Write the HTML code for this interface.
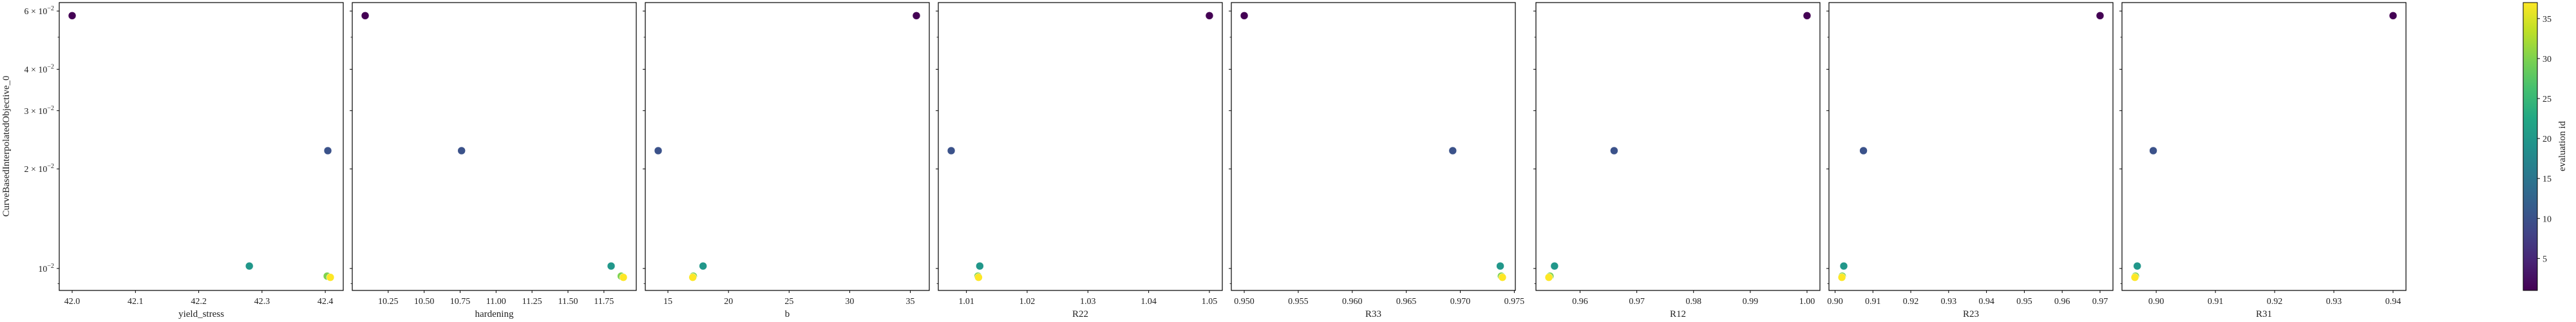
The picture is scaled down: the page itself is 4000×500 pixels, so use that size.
<!DOCTYPE html>
<html><head><meta charset="utf-8"><style>
html,body{margin:0;padding:0;background:#fff;}
svg{display:block;font-family:"Liberation Serif",serif;}
</style></head><body>
<svg id="chart" width="4000" height="500" viewBox="0 0 4000 500" xmlns="http://www.w3.org/2000/svg">
<defs>
<linearGradient id="viridis" x1="0" y1="1" x2="0" y2="0">
<stop offset="0" stop-color="#440154"/><stop offset="0.1" stop-color="#482475"/><stop offset="0.2" stop-color="#414487"/><stop offset="0.3" stop-color="#355f8d"/><stop offset="0.4" stop-color="#2a788e"/><stop offset="0.5" stop-color="#21918c"/><stop offset="0.6" stop-color="#22a884"/><stop offset="0.7" stop-color="#44bf70"/><stop offset="0.8" stop-color="#7ad151"/><stop offset="0.9" stop-color="#bddf26"/><stop offset="1" stop-color="#fde725"/>
</linearGradient>
</defs>
</svg>
<script>
// ---- data ----
const paramNames = ["yield_stress","hardening","b","R22","R33","R12","R23","R31"];
const evalIds = [1, 10, 20, 30, 37];
const objective = [0.0581, 0.0227, 0.01017, 0.00948, 0.0094];
const yieldStress = [42.0, 42.404, 42.28, 42.403, 42.408];
const hardening = [10.09, 10.76, 11.80, 11.87, 11.885];
const bVals = [35.5, 14.2, 17.9, 17.1, 17.05];
const r22 = [1.05, 1.0075, 1.0122, 1.0119, 1.0120];
const r33 = [0.950, 0.9693, 0.9737, 0.9738, 0.9739];
const r12 = [1.00, 0.966, 0.9555, 0.9547, 0.9545];
const r23 = [0.97, 0.9075, 0.9023, 0.9019, 0.9018];
const r31 = [0.94, 0.8995, 0.8968, 0.8965, 0.8964];
const xTicks = [
 [42.0,42.1,42.2,42.3,42.4],
 [10.25,10.5,10.75,11.0,11.25,11.5,11.75],
 [15,20,25,30,35],
 [1.01,1.02,1.03,1.04,1.05],
 [0.950,0.955,0.960,0.965,0.970,0.975],
 [0.96,0.97,0.98,0.99,1.00],
 [0.90,0.91,0.92,0.93,0.94,0.95,0.96,0.97],
 [0.90,0.91,0.92,0.93,0.94]
];
const xTickDigits = [1,2,0,2,3,2,2,2];
const yMajorTicks = [0.01,0.02,0.03,0.04,0.06];
const yMajorLabels = [["10","−2"],["2 × 10","−2"],["3 × 10","−2"],["4 × 10","−2"],["6 × 10","−2"]];
const yMinorTicks = [0.009,0.05];
const cbTicks = [5,10,15,20,25,30,35];
const cbMin = 1, cbMax = 37;

// ---- layout ----
const panelLeft = [92,547,1002,1457,1912,2385,2840,3295];
const panelW = 441, plotTop = 4, plotBottom = 451;
const svg = document.getElementById('chart');
const NS = "http://www.w3.org/2000/svg";
function mk(tag, attrs, parent){const e=document.createElementNS(NS,tag);for(const k in attrs)e.setAttribute(k,attrs[k]);(parent||svg).appendChild(e);return e;}

const series = [yieldStress,hardening,bVals,r22,r33,r12,r23,r31];
const lyMin = Math.log10(Math.min(...objective)), lyMax = Math.log10(Math.max(...objective));
const lySpan = lyMax-lyMin, ly0 = lyMin-0.05*lySpan, ly1 = lyMax+0.05*lySpan;
function yScale(v){return plotBottom-(Math.log10(v)-ly0)/(ly1-ly0)*(plotBottom-plotTop);}

const vstops=[[0,[68,1,84]],[0.1,[72,36,117]],[0.2,[65,68,135]],[0.3,[53,95,141]],[0.4,[42,120,142]],[0.5,[33,145,140]],[0.6,[34,168,132]],[0.7,[68,191,112]],[0.8,[122,209,81]],[0.9,[189,223,38]],[1,[253,231,37]]];
function viridis(t){t=Math.max(0,Math.min(1,t));for(let i=1;i<vstops.length;i++){if(t<=vstops[i][0]){const a=vstops[i-1],b=vstops[i];const f=(t-a[0])/(b[0]-a[0]);const c=a[1].map((v,j)=>Math.round(v+(b[1][j]-v)*f));return `rgb(${c[0]},${c[1]},${c[2]})`;}}return 'rgb(253,231,37)';}

// y label
const yl = mk('text',{x:14,y:227,'font-size':15,'text-anchor':'middle',transform:'rotate(-90 14 227)',fill:'#222'});


yl.textContent='CurveBasedInterpolatedObjective_0';

series.forEach((vals,p)=>{
  const L = panelLeft[p];
  const g = mk('g',{});
  
  
  const mn=Math.min(...vals), mx=Math.max(...vals), sp=mx-mn;
  const x0=mn-0.05*sp, x1=mx+0.05*sp;
  const xs = v => L+(v-x0)/(x1-x0)*panelW;
  yMajorTicks.forEach((t,i)=>{
    const y=yScale(t);
    const tk=mk('line',{x1:L-4,x2:L,y1:y,y2:y,stroke:'#000','stroke-width':1},g);
    
    
    if(p===0){
      const tx=mk('text',{x:L-8,y:y+5,'font-size':14,'text-anchor':'end',fill:'#222'},g);
      
      
      const a=mk('tspan',{},tx);a.textContent=yMajorLabels[i][0];
      const b=mk('tspan',{dy:-6,'font-size':10},tx);b.textContent=yMajorLabels[i][1];
    }
  });
  yMinorTicks.forEach(t=>{
    const y=yScale(t);
    const tk=mk('line',{x1:L-2.5,x2:L,y1:y,y2:y,stroke:'#000','stroke-width':0.8},g);
    
    
  });
  xTicks[p].forEach(t=>{
    const x=xs(t);
    const tk=mk('line',{x1:x,x2:x,y1:plotBottom,y2:plotBottom+4,stroke:'#000','stroke-width':1},g);
    
    
    const tx=mk('text',{x:x,y:plotBottom+21,'font-size':14,'text-anchor':'middle',fill:'#222'},g);
    
    
    tx.textContent=t.toFixed(xTickDigits[p]);
  });
  const xl=mk('text',{x:L+panelW/2,y:plotBottom+41,'font-size':15,'text-anchor':'middle',fill:'#222'},g);
  
  
  xl.textContent=paramNames[p];
  vals.forEach((v,i)=>{
    const c=mk('circle',{cx:xs(v),cy:yScale(objective[i]),r:6,fill:viridis((evalIds[i]-cbMin)/(cbMax-cbMin)),stroke:'#fff','stroke-width':0.5},g);
    
    
  });
  const fr=mk('rect',{x:L,y:plotTop,width:panelW,height:plotBottom-plotTop,fill:'none',stroke:'#000','stroke-width':1.2},g);
  
  
});

// colorbar
const cbL=3918, cbW=22;
const cbg=mk('g',{});


const cbr=mk('rect',{x:cbL,y:plotTop,width:cbW,height:plotBottom-plotTop,fill:'url(#viridis)',stroke:'#000','stroke-width':1},cbg);


const cbY=v=>plotBottom-(v-cbMin)/(cbMax-cbMin)*(plotBottom-plotTop);
cbTicks.forEach(t=>{
  const y=cbY(t);
  const tk=mk('line',{x1:cbL+cbW,x2:cbL+cbW+4,y1:y,y2:y,stroke:'#000','stroke-width':1},cbg);
  
  
  const tx=mk('text',{x:cbL+cbW+8,y:y+5,'font-size':14,fill:'#222'},cbg);
  
  
  tx.textContent=String(t);
});
const cbt=mk('text',{x:3983,y:227,'font-size':15,'text-anchor':'middle',transform:'rotate(-90 3983 227)',fill:'#222'},cbg);


cbt.textContent='evaluation id';
</script>
</body></html>
